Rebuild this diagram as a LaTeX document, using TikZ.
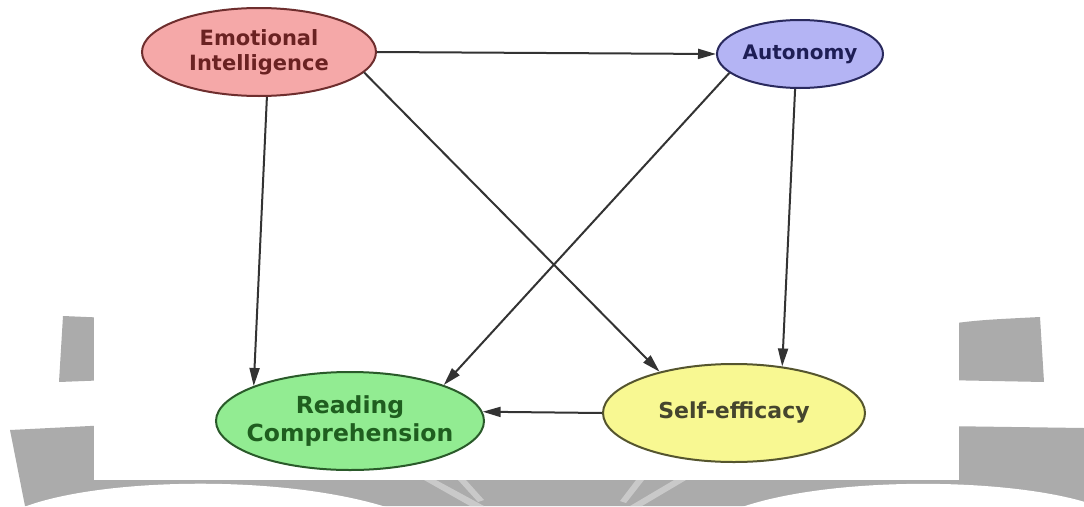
\documentclass[tikz,border=0pt]{standalone}
\usepackage{fontspec}
\newfontfamily\labfont{DejaVu Sans}
\usetikzlibrary{shapes.geometric,arrows.meta}
\definecolor{wmgray}{HTML}{ABABAB}
\definecolor{wmlight}{HTML}{C9C9C9}
\definecolor{eifill}{HTML}{F5A8A8}
\definecolor{eiline}{HTML}{6E2E2E}
\definecolor{eitext}{HTML}{6A2222}
\definecolor{aufill}{HTML}{B4B4F4}
\definecolor{auline}{HTML}{2A2A5E}
\definecolor{autext}{HTML}{1E1E55}
\definecolor{rcfill}{HTML}{92EC92}
\definecolor{rcline}{HTML}{2A5A2A}
\definecolor{rctext}{HTML}{1F5E1F}
\definecolor{sefill}{HTML}{F8F892}
\definecolor{seline}{HTML}{55552E}
\definecolor{setext}{HTML}{45452E}
\definecolor{arr}{HTML}{333333}
\tikzset{
  var/.style={ellipse, draw, line width=2pt, inner sep=0pt},
  vtext/.style={align=center, inner sep=0pt},
  link/.style={draw=arr, line width=2pt,
    -{Triangle[length=18pt,width=10pt]}},
}
\begin{document}
\begin{tikzpicture}[x=1pt,y=-1pt]
\useasboundingbox (0,0) rectangle (1084,506);
% watermark
\fill[wmgray] (63,316) -- (110,318) -- (110,380) -- (59,382) -- cycle;
\fill[wmgray] (940,325) .. controls (980,320) .. (1040,317) -- (1044,382) -- (940,380) -- cycle;
\fill[wmgray] (10,430) -- (110,425) -- (940,426) -- (1084,428) -- (1084,506) -- (25,506) -- cycle;
\fill[white] (24,507) .. controls (100,478) and (280,474) .. (386,507) -- cycle;
\fill[white] (742,507) .. controls (830,477) and (1000,477) .. (1085,502) -- (1085,507) -- cycle;
\fill[wmlight] (424,480) -- (436,480) -- (484,506) -- (470,506) -- cycle;
\fill[wmlight] (458,480) -- (466,480) -- (484,500) -- (478,502) -- cycle;
\fill[wmlight] (636,480) -- (644,480) -- (626,503) -- (620,501) -- cycle;
\fill[wmlight] (674,480) -- (686,480) -- (642,506) -- (630,506) -- cycle;
\fill[white] (94,0) rectangle (959,480);
% nodes
\node[var, fill=eifill, draw=eiline, minimum width=234pt, minimum height=88pt] (EI) at (259,52) {};
\node[vtext, text=eitext, font=\labfont\bfseries\fontsize{21}{25}\selectfont] (EIt) at (EI.center) {Emotional\\Intelligence};
\node[var, fill=aufill, draw=auline, minimum width=166pt, minimum height=68pt] (AU) at (800,54) {};
\node[vtext, text=autext, font=\labfont\bfseries\fontsize{20}{24}\selectfont] (AUt) at (AU.center) {Autonomy};
\node[var, fill=rcfill, draw=rcline, minimum width=268pt, minimum height=98pt] (RC) at (350,421) {};
\node[vtext, text=rctext, font=\labfont\bfseries\fontsize{23.5}{28}\selectfont] (RCt) at (RC.center) {Reading\\Comprehension};
\node[var, fill=sefill, draw=seline, minimum width=262pt, minimum height=98pt] (SE) at (734,413) {};
\node[vtext, text=setext, font=\labfont\bfseries\fontsize{22}{26}\selectfont] (SEt) at (SE.center) {Self-efficacy};
% connectors
\draw[link] (EI.east) -- (AU.west);
\draw[link] (EI.-80) -- (RC.160);
\draw[link] (EI.-11) -- (SE.151);
\draw[link] (AU.-165) -- (RC.21.6);
\draw[link] (AU.-98) -- (SE.44);
\draw[link] (SE.west) -- (RC.4);
\end{tikzpicture}
\end{document}
